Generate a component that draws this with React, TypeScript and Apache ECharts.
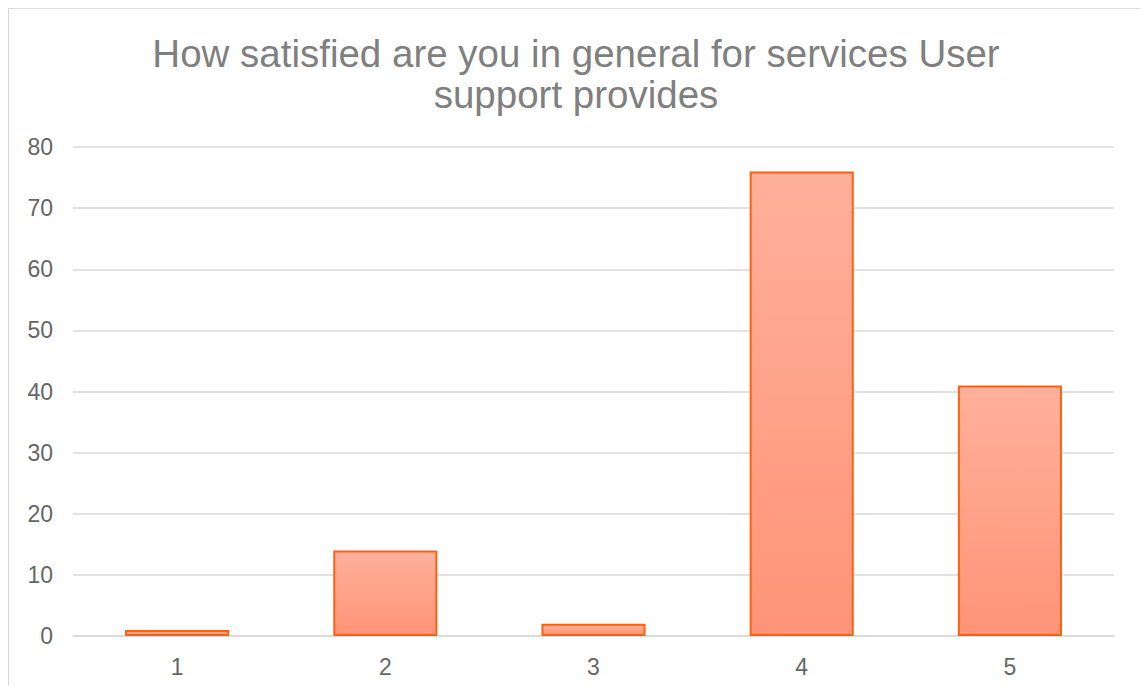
import React, { useEffect, useRef } from "react";
import * as echarts from "echarts";

const titleText = "How satisfied are you in general for services User\nsupport provides";
const categories = ["1", "2", "3", "4", "5"];
const values = [1, 14, 2, 76, 41];
const yMin = 0;
const yMax = 80;
const yInterval = 10;

export default function App() {
  const ref = useRef<HTMLDivElement>(null);
  useEffect(() => {
    if (!ref.current) return;
    const chart = echarts.init(ref.current, undefined, { renderer: "svg" });
    chart.setOption({
      animation: false,
      backgroundColor: "#ffffff",
      title: {
        text: titleText,
        left: "center",
        top: 19,
        textStyle: {
          fontFamily: "Liberation Sans, Arial, sans-serif",
          fontSize: 38.5,
          fontWeight: "normal",
          color: "#7f7f7f",
          lineHeight: 41,
          align: "center",
        },
      },
      grid: { left: 64, right: 29, top: 138, bottom: 63, containLabel: false },
      xAxis: {
        type: "category",
        data: categories,
        axisLine: { show: true, lineStyle: { color: "#d9d9d9", width: 1.5 } },
        axisTick: { show: false },
        axisLabel: {
          color: "#666666",
          fontSize: 23,
          fontFamily: "Liberation Sans, Arial, sans-serif",
          margin: 19,
        },
      },
      yAxis: {
        type: "value",
        min: yMin,
        max: yMax,
        interval: yInterval,
        axisLine: { show: false },
        axisTick: { show: false },
        splitLine: { lineStyle: { color: "#d9d9d9", width: 1.5 } },
        axisLabel: {
          color: "#666666",
          fontSize: 23,
          fontFamily: "Liberation Sans, Arial, sans-serif",
          margin: 20,
        },
      },
      series: [
        {
          type: "bar",
          data: values,
          barWidth: "50%",
          itemStyle: {
            color: new echarts.graphic.LinearGradient(0, 0, 0, 1, [
              { offset: 0, color: "#ffb09b" },
              { offset: 1, color: "#ff9477" },
            ]),
            borderColor: "#ff6010",
            borderWidth: 2,
          },
        },
      ],
    });
    return () => chart.dispose();
  }, []);
  return (
    <div
      ref={ref}
      style={{ width: 1134, height: 690, border: "1px solid #d9d9d9" }}
    />
  );
}
